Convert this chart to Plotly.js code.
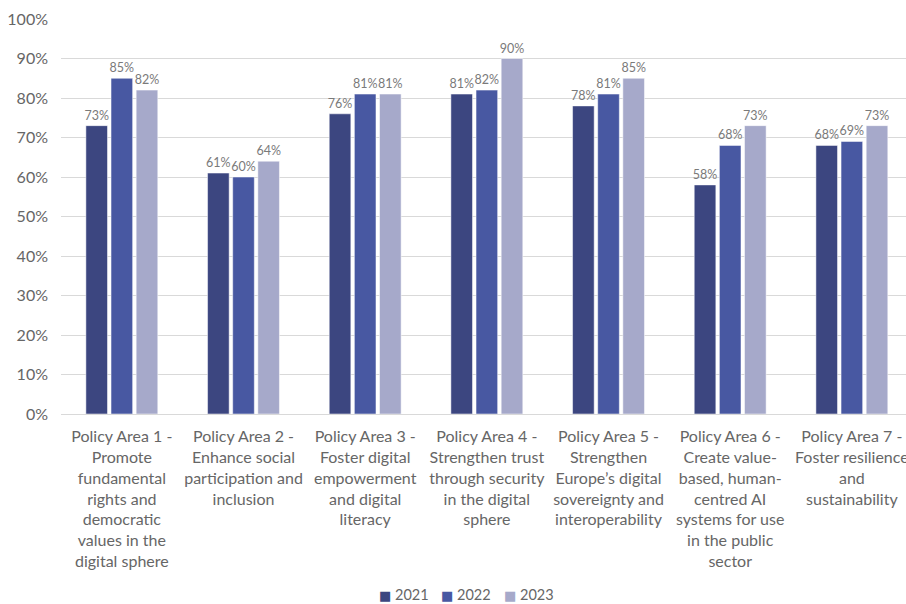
<!DOCTYPE html>
<html>
<head>
<meta charset="utf-8">
<script src="https://cdn.plot.ly/plotly-3.0.1.min.js"></script>
<style>html,body{margin:0;padding:0;background:#fff;}#chart{width:906px;height:604px;}</style>
</head>
<body>
<div id="chart"></div>
<script>
const categories = [
  "Policy Area 1 -<br>Promote<br>fundamental<br>rights and<br>democratic<br>values in the<br>digital sphere",
  "Policy Area 2 -<br>Enhance social<br>participation and<br>inclusion",
  "Policy Area 3 -<br>Foster digital<br>empowerment<br>and digital<br>literacy",
  "Policy Area 4 -<br>Strengthen trust<br>through security<br>in the digital<br>sphere",
  "Policy Area 5 -<br>Strengthen<br>Europe’s digital<br>sovereignty and<br>interoperability",
  "Policy Area 6 -<br>Create value-<br>based, human-<br>centred AI<br>systems for use<br>in the public<br>sector",
  "Policy Area 7 -<br>Foster resilience<br>and<br>sustainability"
];
const seriesNames = ["2021", "2022", "2023"];
const values2021 = [73, 61, 76, 81, 78, 58, 68];
const values2022 = [85, 60, 81, 82, 81, 68, 69];
const values2023 = [82, 64, 81, 90, 85, 73, 73];
const colors = ["#3C4680", "#4858A2", "#A6A9CA"];
const yTicks = [0, 10, 20, 30, 40, 50, 60, 70, 80, 90, 100];

const allValues = [values2021, values2022, values2023];
const font = "Lato, Noto Sans, sans-serif";
const traces = allValues.map((vals, i) => ({
  type: "bar",
  name: seriesNames[i],
  x: categories,
  y: vals,
  marker: {color: colors[i], line: {color: "rgba(255,255,255,0.5)", width: 1}},
  text: vals.map(v => v + "%"),
  textposition: "outside",
  constraintext: "none",
  textfont: {family: font, size: 12.5, color: "#7a7a7a"},
  cliponaxis: false,
  hoverinfo: "skip"
}));

// compact legend (small square + label), as in the original
const legendX = [0.406, 0.479, 0.554];
const legendAnnotations = seriesNames.map((name, i) => ({
  xref: "paper", yref: "paper", x: legendX[i], y: -0.458,
  xanchor: "center", yanchor: "middle", showarrow: false, borderpad: 0,
  text: '<span style="color:' + colors[i] + ';font-family:DejaVu Sans;font-size:13px">■</span> ' + name,
  font: {family: font, size: 14.5, color: "#666"}
}));

const layout = {
  width: 906, height: 604,
  margin: {l: 61, r: 0, t: 19, b: 190, autoexpand: false},
  paper_bgcolor: "#fff", plot_bgcolor: "#fff",
  barmode: "group", bargap: 0.38, bargroupgap: 0.14,
  font: {family: font, color: "#666", size: 16},
  xaxis: {
    type: "category", range: [-0.5, 6.445], automargin: false,
    showline: true, linecolor: "#d9d9d9", linewidth: 1,
    ticks: "", tickfont: {family: font, size: 16, color: "#666"},
    ticklabelstandoff: 8,
    showgrid: false, fixedrange: true
  },
  yaxis: {
    range: [0, 100], tickvals: yTicks, ticktext: yTicks.map(v => v + "%"),
    showgrid: true, gridcolor: "#d9d9d9", gridwidth: 1, zeroline: false,
    tickfont: {family: font, size: 16, color: "#666"}, ticklen: 0, ticks: "",
    ticklabelstandoff: 12,
    automargin: false, fixedrange: true
  },
  showlegend: false,
  annotations: legendAnnotations
};
Plotly.newPlot("chart", traces, layout, {displayModeBar: false, staticPlot: true});
</script>
</body>
</html>
